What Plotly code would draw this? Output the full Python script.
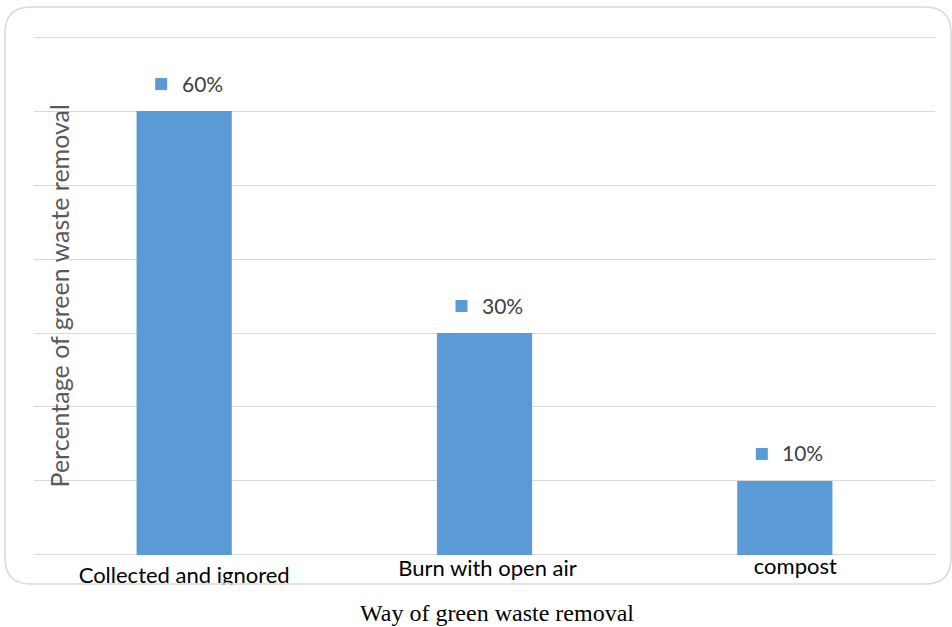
import plotly.graph_objects as go

# Survey results: how green waste is removed
categories = ["Collected and ignored", "Burn with open air", "compost"]
percentages = [60, 30, 10]

y_title = "Percentage of green waste removal"
x_title = "Way of green waste removal"

BAR_COLOR = "#5b9bd5"
GRID_COLOR = "#d9d9d9"

W, H = 952, 627
M_L, M_R, M_T, M_B = 34, 17, 37, 27
PLOT_W = W - M_L - M_R
PLOT_H = H - M_T - M_B


def px_x(p):
    return (p - M_L) / PLOT_W


def px_y(p):
    return (H - M_B - p) / PLOT_H


positions = list(range(len(categories)))
# label placement under the axis: drop (px below axis line) and sideways nudge
label_drop = [23, 16, 14]
label_nudge = [0.0, 0.01, 0.035]

fig = go.Figure()

fig.add_trace(go.Bar(
    x=positions, y=percentages, width=0.317,
    marker=dict(color=BAR_COLOR, line=dict(width=0)),
    hoverinfo="skip", xaxis="x", yaxis="y",
))

# category labels live in a thin strip under the axis, clipped by the frame
fig.add_trace(go.Scatter(
    x=[p + n for p, n in zip(positions, label_nudge)], y=label_drop,
    mode="text", text=categories,
    textposition="middle center", cliponaxis=True,
    textfont=dict(family="Lato", size=22, color="#000000"),
    hoverinfo="skip", xaxis="x2", yaxis="y2",
))

axis_line_px = 555
frame_bottom_px = 585

fig.update_layout(
    width=W, height=H,
    margin=dict(l=M_L, r=M_R, t=M_T - 1, b=M_B, pad=0),
    paper_bgcolor="white", plot_bgcolor="white",
    showlegend=False,
    xaxis=dict(range=[-0.5, 2.5], showticklabels=False, showgrid=False,
               zeroline=False, showline=False, ticks="", fixedrange=True,
               domain=[0, 1]),
    yaxis=dict(range=[0, 70.15], dtick=10, showticklabels=False, ticks="",
               showgrid=True, gridcolor=GRID_COLOR, gridwidth=1.3,
               zeroline=True, zerolinecolor=GRID_COLOR, zerolinewidth=1.3,
               showline=False, domain=[px_y(axis_line_px), 1]),
    xaxis2=dict(range=[-0.5, 2.5], visible=False, anchor="y2",
                domain=[0, 1]),
    yaxis2=dict(range=[frame_bottom_px - axis_line_px, 0], visible=False,
                anchor="x2",
                domain=[px_y(frame_bottom_px), px_y(axis_line_px)]),
)

annotations = []
shapes = []

# value labels with a small legend-style key
for i, v in enumerate(percentages):
    annotations.append(dict(
        x=i, y=v, xref="x", yref="y", text=f"{v}%", showarrow=False,
        xshift=18, yshift=28, xanchor="center", yanchor="middle",
        font=dict(family="Lato", size=21, color="#404040"),
    ))
    shapes.append(dict(
        type="rect", xref="x", yref="y",
        xsizemode="pixel", ysizemode="pixel",
        xanchor=i, yanchor=v,
        x0=-29, x1=-17, y0=21, y1=33,
        fillcolor=BAR_COLOR, line=dict(width=0),
    ))

annotations.append(dict(
    x=px_x(59), y=px_y(297), xref="paper", yref="paper",
    xanchor="center", yanchor="middle",
    text=y_title, textangle=-90, showarrow=False,
    font=dict(family="Lato", size=25, color="#595959"),
))
annotations.append(dict(
    x=px_x(497), y=px_y(613), xref="paper", yref="paper",
    xanchor="center", yanchor="middle",
    text=x_title, showarrow=False,
    font=dict(family="Liberation Serif", size=24, color="#000000"),
))

# rounded chart frame
x0, x1 = px_x(5), px_x(951)
y0, y1 = px_y(584), px_y(8)
rx = 26 / PLOT_W
ry = 26 / PLOT_H
frame = (
    f"M {x0 + rx},{y1} L {x1 - rx},{y1} Q {x1},{y1} {x1},{y1 - ry} "
    f"L {x1},{y0 + ry} Q {x1},{y0} {x1 - rx},{y0} "
    f"L {x0 + rx},{y0} Q {x0},{y0} {x0},{y0 + ry} "
    f"L {x0},{y1 - ry} Q {x0},{y1} {x0 + rx},{y1} Z"
)
shapes.append(dict(type="path", path=frame, xref="paper", yref="paper",
                   line=dict(color=GRID_COLOR, width=1.6), layer="above"))

fig.update_layout(annotations=annotations, shapes=shapes)

fig.write_html("out.html", config={"displayModeBar": False})
